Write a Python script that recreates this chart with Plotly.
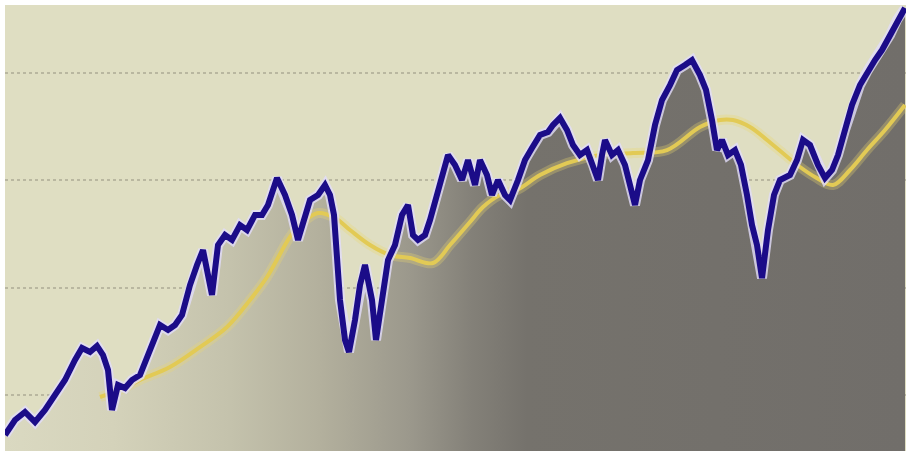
import plotly.graph_objects as go

# Price series (day index, value)
days = [5, 15, 25, 35, 45, 55, 65, 75, 82, 90, 97, 103, 108, 112, 118, 125, 132, 140, 148, 155,
        160, 168, 175, 182, 190, 197, 203, 212, 218, 225, 232, 240, 247, 255, 262, 268, 277, 285, 292, 298,
        303, 310, 318, 325, 330, 334, 340, 345, 349, 355, 360, 365, 372, 376, 382, 388, 395, 402, 408, 413,
        418, 425, 430, 440, 448, 455, 462, 468, 475, 480, 487, 492, 498, 505, 510, 518, 525, 532, 540, 548,
        553, 560, 567, 573, 580, 587, 593, 598, 602, 605, 612, 618, 625, 632, 635, 640, 648, 655, 662, 670,
        677, 685, 692, 700, 706, 712, 717, 722, 728, 735, 741, 747, 752, 757, 762, 768, 774, 780, 790, 797,
        803, 810, 818, 825, 832, 838, 845, 852, 860, 868, 875, 882, 890, 897, 905]
price = [6.27, 7.67, 8.42, 7.48, 8.60, 10.00, 11.40, 13.26, 14.38, 14.01, 14.57, 13.73, 12.33, 8.60, 10.93, 10.65, 11.40, 11.86, 13.73, 15.59,
         16.52, 16.06, 16.52, 17.46, 20.25, 22.12, 23.51, 19.32, 23.98, 24.91, 24.45, 25.84, 25.38, 26.78, 26.78, 27.71, 30.22, 28.64, 26.78, 24.45,
         25.84, 28.17, 28.64, 29.57, 28.64, 26.78, 18.85, 15.13, 14.01, 16.99, 20.25, 22.12, 18.85, 15.13, 18.85, 22.58, 23.98, 26.78, 27.71, 24.91,
         24.45, 24.91, 26.31, 29.57, 32.37, 31.44, 30.04, 31.90, 29.57, 31.90, 30.50, 28.64, 30.04, 28.64, 28.17, 30.04, 31.90, 33.02, 34.23, 34.51,
         35.16, 35.82, 34.70, 33.30, 32.37, 32.83, 31.44, 30.04, 32.37, 33.77, 32.37, 32.83, 31.44, 29.11, 27.71, 30.04, 31.90, 35.16, 37.49, 38.89,
         40.29, 40.76, 41.22, 39.82, 38.43, 35.63, 32.83, 33.77, 32.37, 32.83, 31.44, 28.64, 25.84, 23.98, 20.90, 25.38, 28.64, 30.04, 30.50, 31.90,
         33.77, 33.30, 31.44, 30.22, 30.97, 32.37, 34.70, 37.03, 38.89, 40.29, 41.22, 42.15, 43.55, 44.95, 46.07]

# Moving average series
ma_days = [100, 120, 140, 170, 200, 227, 250, 267, 290, 300, 318, 335, 350, 370, 390, 410, 433, 450, 470, 483,
           500, 517, 540, 567, 600, 633, 667, 700, 720, 733, 750, 767, 785, 800, 815, 833, 850, 867, 885, 905]
ma = [9.81, 10.47, 11.40, 12.61, 14.47, 16.34, 18.85, 21.00, 24.73, 25.84, 26.96, 26.50, 25.38, 23.98, 23.05, 22.77, 22.30, 23.98, 26.12, 27.52,
      28.64, 29.11, 30.50, 31.62, 32.37, 32.55, 32.83, 34.98, 35.63, 35.63, 34.98, 33.77, 32.37, 31.25, 30.32, 29.57, 30.97, 32.83, 34.70, 37.03]

grid_vals = [10, 20, 30, 40]

fig = go.Figure()

# filled area under price with horizontal gradient
fig.add_trace(go.Scatter(
    x=days, y=price, mode="lines", line=dict(width=0, color="rgba(0,0,0,0)"),
    fill="tozeroy",
    fillgradient=dict(type="horizontal", colorscale=[
        [0.0, "#dad9c1"], [0.12, "#d4d2ba"], [0.25, "#c4c2ac"], [0.35, "#b3b09d"],
        [0.45, "#9b988c"], [0.52, "#838078"], [0.58, "#75726c"], [1.0, "#716e6a"]]),
    hoverinfo="skip", showlegend=False))

# yellow moving average glow + line
fig.add_trace(go.Scatter(x=ma_days, y=ma, mode="lines", line=dict(width=10, color="rgba(235,215,110,0.3)", shape="spline"),
                         hoverinfo="skip", showlegend=False))
fig.add_trace(go.Scatter(x=ma_days, y=ma, mode="lines", line=dict(width=4, color="#e2ca55", shape="spline"),
                         showlegend=False))

# price halo + line
fig.add_trace(go.Scatter(x=days, y=price, mode="lines", line=dict(width=10, color="rgba(225,220,250,0.8)"),
                         hoverinfo="skip", showlegend=False))
fig.add_trace(go.Scatter(x=days, y=price, mode="lines", line=dict(width=6, color="#1b0c88"),
                         showlegend=False))

fig.update_layout(
    width=906, height=451,
    margin=dict(l=5, r=0, t=5, b=0),
    paper_bgcolor="white",
    plot_bgcolor="#dfdec2",
    xaxis=dict(range=[5, 906], showgrid=False, zeroline=False, showticklabels=False, ticks=""),
    yaxis=dict(range=[4.78, 46.35], tickvals=grid_vals, showgrid=True, gridcolor="#b9b7a0", gridwidth=2,
               griddash="3px,3px", zeroline=False, showticklabels=False, ticks=""),
)

fig.write_html("out.html")
